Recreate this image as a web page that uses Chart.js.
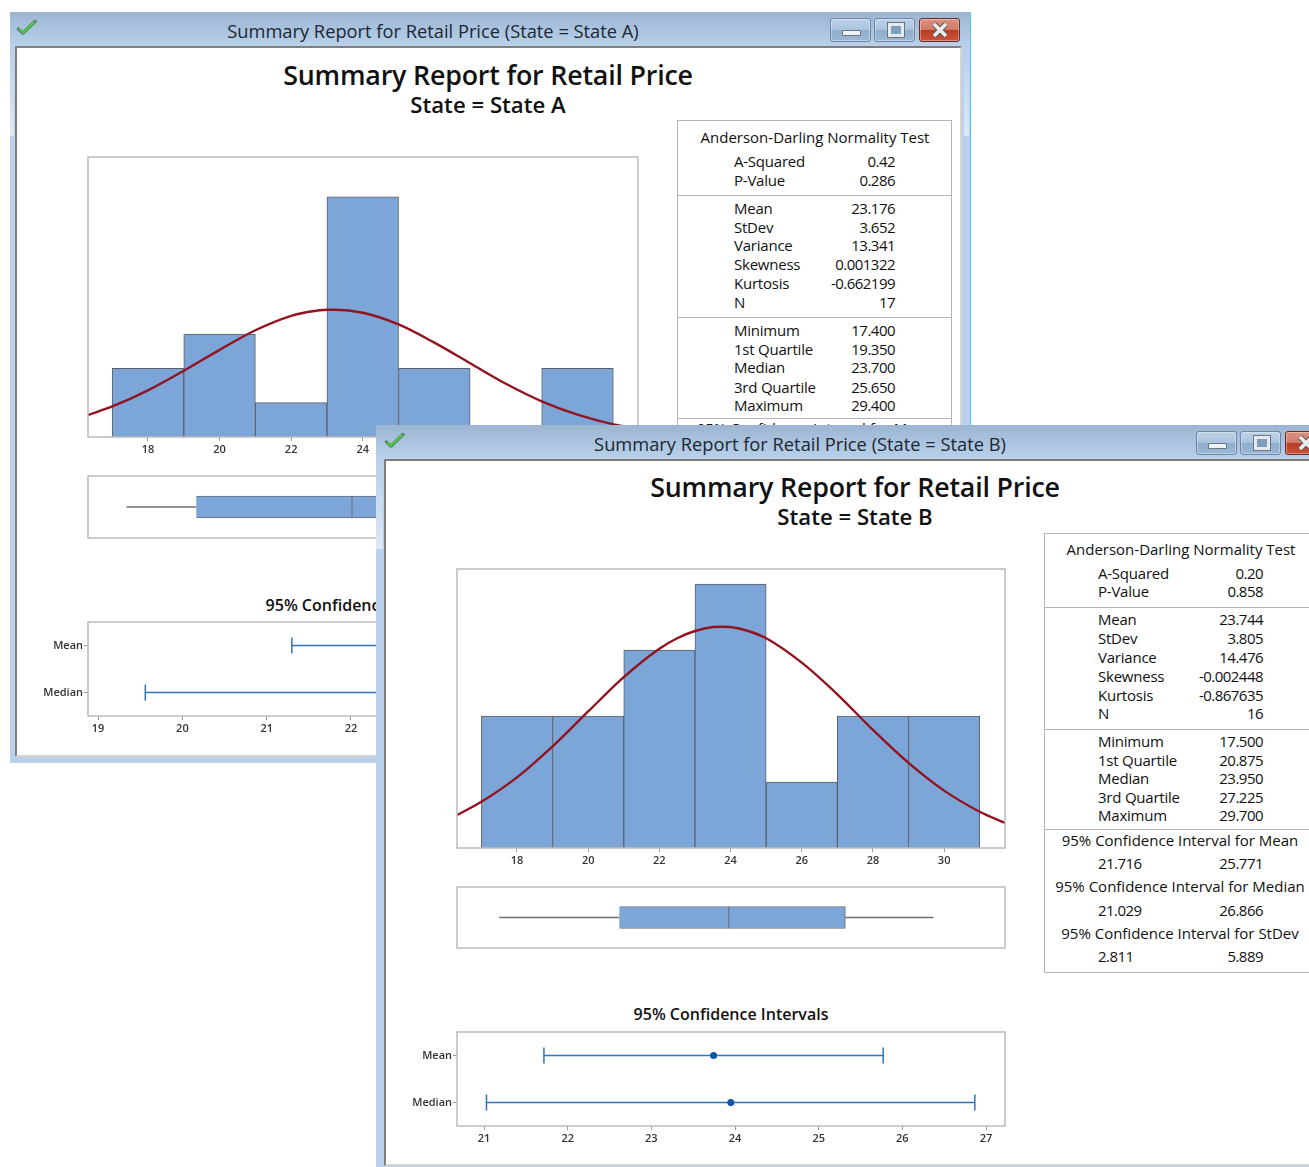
<!DOCTYPE html>
<html>
<head>
<meta charset="utf-8">
<title>Summary Report for Retail Price</title>
<script src="https://cdn.jsdelivr.net/npm/chart.js@4"></script>
<style>
html, body { margin: 0; padding: 0; background: #fff; overflow: hidden; }
body { font-family: "Open Sans", "Noto Sans", sans-serif; color: #111; }
#stage { position: relative; width: 1309px; height: 1167px; overflow: hidden; }
.win { position: absolute; left: 0; top: 0; width: 1309px; height: 1167px; }
.win > * { position: absolute; }
.txt { white-space: nowrap; line-height: 1; }
.rule { background: #b4b4b4; height: 1px; }
.box { border: 1px solid #b4b4b4; box-sizing: border-box; background: #fff; }
.btn { border: 1px solid #6d86a3; border-radius: 3px; box-sizing: border-box; box-shadow: inset 0 0 0 1px rgba(255,255,255,.35);
       background: linear-gradient(#bdd2e8 0, #a9c3de 48%, #8fadcc 50%, #9bb8d6 100%); }
.btn.close { border-color: #6a2a25; background: linear-gradient(#dc9180 0, #cf7a68 48%, #b83a1e 50%, #c8553c 100%); }
canvas { display: block; }
</style>
</head>
<body>
<div id="stage"></div>
<script>
// histogram bins (centres) and counts
const binCentres = [18, 20, 22, 24, 26, 28, 30];
const countsA = [2, 3, 1, 7, 2, 0, 2];
const countsB = [2, 2, 3, 4, 1, 2, 2];
const histTicksA = [18, 20, 22, 24, 26, 28, 30];
const histTicksB = [18, 20, 22, 24, 26, 28, 30];

// fitted curve
const curveXA = [16.32, 17, 18, 19, 20, 21, 22, 22.5, 23, 23.25, 24, 25, 26, 27, 28, 29, 30, 31, 31.69];
const curveYA = [0.64, 0.89, 1.36, 1.93, 2.54, 3.11, 3.53, 3.65, 3.71, 3.71, 3.62, 3.28, 2.75, 2.15, 1.55, 1.04, 0.65, 0.37, 0.25];
const curveXB = [16.32, 17, 18, 19, 20, 21, 22, 22.5, 23, 23.5, 23.75, 24, 24.5, 25, 26, 27, 28, 29, 30, 31, 31.71];
const curveYB = [0.50, 0.70, 1.07, 1.54, 2.07, 2.59, 3.02, 3.18, 3.29, 3.35, 3.355, 3.35, 3.29, 3.18, 2.81, 2.33, 1.79, 1.29, 0.87, 0.55, 0.38];

// box plots: min, q1, median, q3, max
const boxA = [17.4, 19.35, 23.7, 25.65, 29.4];
const boxB = [17.5, 20.875, 23.95, 27.225, 29.7];

// confidence intervals: low, centre, high
const ciCategories = ['Mean', 'Median'];
const ciMeanA = [21.298, 23.176, 25.054];
const ciMedianA = [19.56, 23.7, 25.2];
const ciMeanB = [21.716, 23.744, 25.771];
const ciMedianB = [21.029, 23.95, 26.866];
const ciTicksA = [19, 20, 21, 22, 23, 24, 25];
const ciTicksB = [21, 22, 23, 24, 25, 26, 27];

// stats tables
const adLabels = ['A-Squared', 'P-Value'];
const adValuesA = ['0.42', '0.286'];
const adValuesB = ['0.20', '0.858'];
const momentLabels = ['Mean', 'StDev', 'Variance', 'Skewness', 'Kurtosis', 'N'];
const momentValuesA = ['23.176', '3.652', '13.341', '0.001322', '-0.662199', '17'];
const momentValuesB = ['23.744', '3.805', '14.476', '-0.002448', '-0.867635', '16'];
const quartileLabels = ['Minimum', '1st Quartile', 'Median', '3rd Quartile', 'Maximum'];
const quartileValuesA = ['17.400', '19.350', '23.700', '25.650', '29.400'];
const quartileValuesB = ['17.500', '20.875', '23.950', '27.225', '29.700'];
const ciHeaders = ['95% Confidence Interval for Mean', '95% Confidence Interval for Median', '95% Confidence Interval for StDev'];
const ciLowB = ['21.716', '21.029', '2.811'];
const ciHighB = ['25.771', '26.866', '5.889'];

const BAR_BLUE = '#7ca6d8';
const BAR_EDGE = '#5b6068';
const CURVE_RED = '#921420';
const FRAME = '#bcbcbc';
const CI_LINE = '#2f74b8';
const CI_DOT = '#0b55a3';
const TICK_FONT = { family: "'Open Sans'", size: 11, weight: '600' };

const stage = document.getElementById('stage');

// draws the grey box round the plot area
const framePlugin = {
    id: 'frame',
    afterDraw(chart) {
        const a = chart.chartArea;
        const ctx = chart.ctx;
        ctx.save();
        ctx.strokeStyle = FRAME;
        ctx.lineWidth = 1.5;
        ctx.strokeRect(a.left, a.top, a.width, a.height);
        ctx.restore();
    }
};

function el(parent, css, cls, html) {
    const d = document.createElement('div');
    if (cls) d.className = cls;
    d.style.cssText = css;
    if (html) d.innerHTML = html;
    parent.appendChild(d);
    return d;
}

function addText(parent, text, x, y, align, size, weight, color, spacing) {
    const shift = align === 'right' ? '-100%' : align === 'center' ? '-50%' : '0';
    const d = el(parent, `left:${x}px;top:${y - 1}px;font-size:${size}px;font-weight:${weight || 400};letter-spacing:${spacing || 0}em;` +
        `transform:translate(${shift},-50%);` + (color ? `color:${color};` : ''), 'txt');
    d.textContent = text;
    return d;
}

function makeCanvas(parent, left, top, width, height) {
    const c = document.createElement('canvas');
    c.width = width;
    c.height = height;
    c.style.cssText = `left:${left}px;top:${top}px;width:${width}px;height:${height}px;`;
    parent.appendChild(c);
    return c;
}

function fixedTicks(values) {
    return function(axis) {
        axis.ticks = values.map(v => ({ value: v }));
    };
}

function xTickAxis(min, max, values) {
    return {
        type: 'linear',
        min: min,
        max: max,
        offset: false,
        afterBuildTicks: fixedTicks(values),
        afterFit: function(axis) { axis.height = 28; },
        border: { display: false },
        grid: { drawOnChartArea: false, tickLength: 4, color: '#9a9a9a', offset: false },
        ticks: { autoSkip: false, maxRotation: 0, padding: 2, color: '#333', font: TICK_FONT,
            callback: function(value) { return value; } }
    };
}

function baseOptions() {
    return {
        responsive: false,
        animation: false,
        events: [],
        plugins: { legend: { display: false }, tooltip: { enabled: false } }
    };
}

function drawHistogram(parent, plot, xMin, xMax, yMax, counts, curveX, curveY, ticks) {
    const canvas = makeCanvas(parent, plot.left - 4, plot.top - 4, plot.width + 8, plot.height + 32);
    new Chart(canvas.getContext('2d'), {
        type: 'bar',
        data: {
            datasets: [
                {
                    type: 'line',
                    data: curveX.map((x, i) => ({ x: x, y: curveY[i] })),
                    borderColor: CURVE_RED,
                    borderWidth: 2.4,
                    pointRadius: 0,
                    cubicInterpolationMode: 'monotone',
                    order: 0
                },
                {
                    type: 'bar',
                    data: binCentres.map((x, i) => ({ x: x, y: counts[i] })),
                    backgroundColor: BAR_BLUE,
                    borderColor: BAR_EDGE,
                    borderWidth: 1,
                    categoryPercentage: 1,
                    barPercentage: 1,
                    order: 1
                }
            ]
        },
        options: Object.assign(baseOptions(), {
            layout: { autoPadding: false, padding: { left: 4, right: 4, top: 4, bottom: 0 } },
            scales: {
                x: xTickAxis(xMin, xMax, ticks),
                y: { type: 'linear', min: 0, max: yMax, display: false }
            }
        }),
        plugins: [framePlugin]
    });
}

function drawBox(parent, plot, xMin, xMax, box) {
    const canvas = makeCanvas(parent, plot.left - 4, plot.top - 4, plot.width + 8, plot.height + 8);
    new Chart(canvas.getContext('2d'), {
        type: 'bar',
        data: {
            datasets: [
                {
                    type: 'line',
                    data: [{ x: box[0], y: 0 }, { x: box[1], y: 0 }],
                    borderColor: '#6f6f6f',
                    borderWidth: 1.5,
                    pointRadius: 0,
                    order: 2
                },
                {
                    type: 'line',
                    data: [{ x: box[3], y: 0 }, { x: box[4], y: 0 }],
                    borderColor: '#6f6f6f',
                    borderWidth: 1.5,
                    pointRadius: 0,
                    order: 2
                },
                {
                    type: 'bar',
                    indexAxis: 'y',
                    data: [{ y: 0, x: [box[1], box[3]] }],
                    backgroundColor: BAR_BLUE,
                    borderColor: '#666c75',
                    borderWidth: 1,
                    barThickness: 22,
                    grouped: false,
                    order: 1
                },
                {
                    type: 'line',
                    data: [{ x: box[2], y: -0.35 }, { x: box[2], y: 0.35 }],
                    borderColor: '#666c75',
                    borderWidth: 1,
                    pointRadius: 0,
                    order: 0
                }
            ]
        },
        options: Object.assign(baseOptions(), {
            layout: { autoPadding: false, padding: 4 },
            scales: {
                x: { type: 'linear', min: xMin, max: xMax, offset: false, display: false },
                y: { type: 'linear', min: -1, max: 1, offset: false, display: false }
            }
        }),
        plugins: [framePlugin]
    });
}

function drawCi(parent, plot, xMin, xMax, ciMean, ciMedian, ticks) {
    const left = 60;
    // top gap bigger than the y labels' own padding, otherwise the plot area gets pushed down
    const gap = 12;
    const canvas = makeCanvas(parent, plot.left - left, plot.top - gap, plot.width + left + 4, plot.height + gap + 28);
    const series = [ciMean, ciMedian].map((ci, k) => ({
        data: ci.map(x => ({ x: x, y: ciCategories[k] })),
        borderColor: CI_LINE,
        borderWidth: 1.3,
        pointStyle: ['line', 'circle', 'line'],
        pointRotation: [90, 0, 90],
        pointRadius: [8, 3.5, 8],
        pointBorderWidth: [1.5, 0, 1.5],
        pointBorderColor: CI_LINE,
        pointBackgroundColor: CI_DOT
    }));
    new Chart(canvas.getContext('2d'), {
        type: 'line',
        data: { datasets: series },
        options: Object.assign(baseOptions(), {
            layout: { autoPadding: false, padding: { left: 0, right: 4, top: gap, bottom: 0 } },
            scales: {
                x: xTickAxis(xMin, xMax, ticks),
                y: {
                    type: 'category',
                    labels: ciCategories,
                    offset: true,
                    afterFit: function(axis) { axis.width = left; },
                    border: { display: false },
                    grid: { drawOnChartArea: false, tickLength: 4, color: '#9a9a9a', offset: false },
                    ticks: { padding: 1, color: '#333', font: TICK_FONT }
                }
            }
        }),
        plugins: [framePlugin]
    });
}

function checkIcon(parent, x, y) {
    el(parent, `left:${x}px;top:${y}px;width:22px;height:20px;`, '',
        '<svg width="22" height="20" viewBox="0 0 22 20"><path d="M2.5 11 L7 15 L19 3.5" fill="none" stroke="#5d8068" stroke-width="3.4" stroke-linecap="round" stroke-linejoin="round"/>' +
        '<path d="M3 11 L7 14.6 L18.5 4" fill="none" stroke="#45cf45" stroke-width="2" stroke-linejoin="round"/></svg>');
}

function windowButtons(parent, x, y) {
    const h = 24;
    el(parent, `left:${x}px;top:${y}px;width:41px;height:${h}px;`, 'btn',
        '<div style="position:absolute;left:11px;top:11px;width:17px;height:4px;background:#eef2f7;border:1px solid #6b7480;border-radius:1px;"></div>');
    el(parent, `left:${x + 44}px;top:${y}px;width:41px;height:${h}px;`, 'btn',
        '<div style="position:absolute;left:12px;top:3px;width:10px;height:8px;border:3px solid #e6e9ee;outline:1px solid #6b7480;margin:1px 0 0 1px;background:#7f9dbd;"></div>');
    el(parent, `left:${x + 89}px;top:${y}px;width:41px;height:${h}px;`, 'btn close',
        '<svg style="position:absolute;left:11px;top:3px" width="18" height="16" viewBox="0 0 18 16"><path d="M3 2 L15 14 M15 2 L3 14" stroke="#5a5a5a" stroke-width="5.4"/><path d="M3 2 L15 14 M15 2 L3 14" stroke="#ececec" stroke-width="3.6"/></svg>');
}

function drawWindow(z, geo) {
    const w = el(stage, `z-index:${z};`, 'win');
    const { left, top, right, bottom } = geo;
    // outer frame + title bar
    el(w, `left:${left}px;top:${top}px;width:${right - left}px;height:${bottom - top}px;background:#b9d1ea;`);
    el(w, `left:${left}px;top:${top}px;width:${right - left}px;height:34px;background:linear-gradient(#9bb5d2,#b9d1ea);`);
    el(w, `left:${left}px;top:${top + 34}px;width:${geo.clientLeft - left - 1}px;height:90px;background:linear-gradient(#b7cfe9,#dde9f6);`);
    el(w, `left:${geo.clientRight + 2}px;top:${top + 34}px;width:${right - geo.clientRight - 3}px;height:90px;background:linear-gradient(#b7cfe9,#dde9f6);`);
    if (geo.cyanEdge) el(w, `left:${right}px;top:${top}px;width:1px;height:${bottom - top}px;background:#46ccf5;`);
    // client area: dark edge top/left, pale edge bottom/right
    el(w, `left:${geo.clientLeft}px;top:${top + 34}px;width:${geo.clientRight - geo.clientLeft}px;height:${geo.clientBottom - top - 34}px;background:#fff;` +
        'box-sizing:border-box;border-left:2px solid #7e7e7e;border-top:2px solid #7e7e7e;border-right:2px solid #d4d4d4;border-bottom:2px solid #d4d4d4;');
    checkIcon(w, geo.iconX, top + 6);
    addText(w, geo.caption, geo.captionX, top + 20, 'center', 18.3, 400, '#1c2733');
    windowButtons(w, geo.buttonsX, top + 6);
    return w;
}

function drawTable(w, t) {
    el(w, `left:${t.left}px;top:${t.top}px;width:${t.width}px;height:${t.height}px;`, 'box');
    t.rules.forEach(y => el(w, `left:${t.left}px;top:${y}px;width:${t.width}px;`, 'rule'));
    addText(w, 'Anderson-Darling Normality Test', t.centre, t.headY, 'center', 15, 400);
    const labels = adLabels.concat(momentLabels, quartileLabels);
    labels.forEach((label, i) => {
        addText(w, label, t.labelX, t.rowY[i], 'left', 15, 400, null, -0.015);
        addText(w, t.values[i], t.valueX, t.rowY[i], 'right', 15, 400, null, -0.035);
    });
}

// ---------- window A (behind) ----------
const winA = drawWindow(1, {
    left: 10, top: 12, right: 970, bottom: 763,
    clientLeft: 15, clientRight: 962, clientBottom: 757, iconX: 16,
    caption: 'Summary Report for Retail Price (State = State A)', captionX: 433, buttonsX: 830, cyanEdge: true
});
addText(winA, 'Summary Report for Retail Price', 488, 76, 'center', 26.8, 600, null, -0.007);
addText(winA, 'State = State A', 488, 106, 'center', 22.2, 600);
drawHistogram(winA, { left: 88, top: 157, width: 550, height: 280 }, 16.324, 31.69, 8.16, countsA, curveXA, curveYA, histTicksA);
drawBox(winA, { left: 88, top: 476, width: 550, height: 62 }, 16.324, 31.69, boxA);
addText(winA, '95% Confidence Intervals', 363, 606, 'center', 16, 600);
drawCi(winA, { left: 88, top: 622, width: 550, height: 94 }, 18.88, 25.405, ciMeanA, ciMedianA, ciTicksA);
drawTable(winA, {
    left: 677, top: 120, width: 275, height: 440, centre: 815, headY: 138, labelX: 734, valueX: 895,
    rules: [195, 317, 418],
    rowY: [162, 181, 209, 228, 246, 265, 284, 303, 331, 350, 368, 388, 406],
    values: adValuesA.concat(momentValuesA, quartileValuesA)
});
addText(winA, ciHeaders[0], 815, 429, 'center', 15, 400);

// ---------- window B (front) ----------
const winB = drawWindow(2, {
    left: 376, top: 425, right: 1340, bottom: 1190,
    clientLeft: 384, clientRight: 1335, clientBottom: 1166, iconX: 384,
    caption: 'Summary Report for Retail Price (State = State B)', captionX: 800, buttonsX: 1196, cyanEdge: false
});
addText(winB, 'Summary Report for Retail Price', 855, 488, 'center', 26.8, 600, null, -0.007);
addText(winB, 'State = State B', 855, 518, 'center', 22.2, 600);
drawHistogram(winB, { left: 457, top: 569, width: 548, height: 279 }, 16.315, 31.71, 4.23, countsB, curveXB, curveYB, histTicksB);
drawBox(winB, { left: 457, top: 887, width: 548, height: 61 }, 16.315, 31.71, boxB);
addText(winB, '95% Confidence Intervals', 731, 1015, 'center', 16, 600);
drawCi(winB, { left: 457, top: 1032, width: 548, height: 94 }, 20.677, 27.227, ciMeanB, ciMedianB, ciTicksB);
drawTable(winB, {
    left: 1044, top: 533, width: 300, height: 440, centre: 1181, headY: 550, labelX: 1098, valueX: 1263,
    rules: [607, 729, 829],
    rowY: [574, 592, 620, 639, 658, 677, 696, 714, 742, 761, 779, 798, 816],
    values: adValuesB.concat(momentValuesB, quartileValuesB)
});
const ciHeadY = [841, 887, 934];
const ciRowY = [864, 911, 957];
ciHeaders.forEach((h, i) => {
    addText(winB, h, 1180, ciHeadY[i], 'center', 15, 400);
    addText(winB, ciLowB[i], 1098, ciRowY[i], 'left', 15, 400, null, -0.035);
    addText(winB, ciHighB[i], 1263, ciRowY[i], 'right', 15, 400, null, -0.035);
});
</script>
</body>
</html>
